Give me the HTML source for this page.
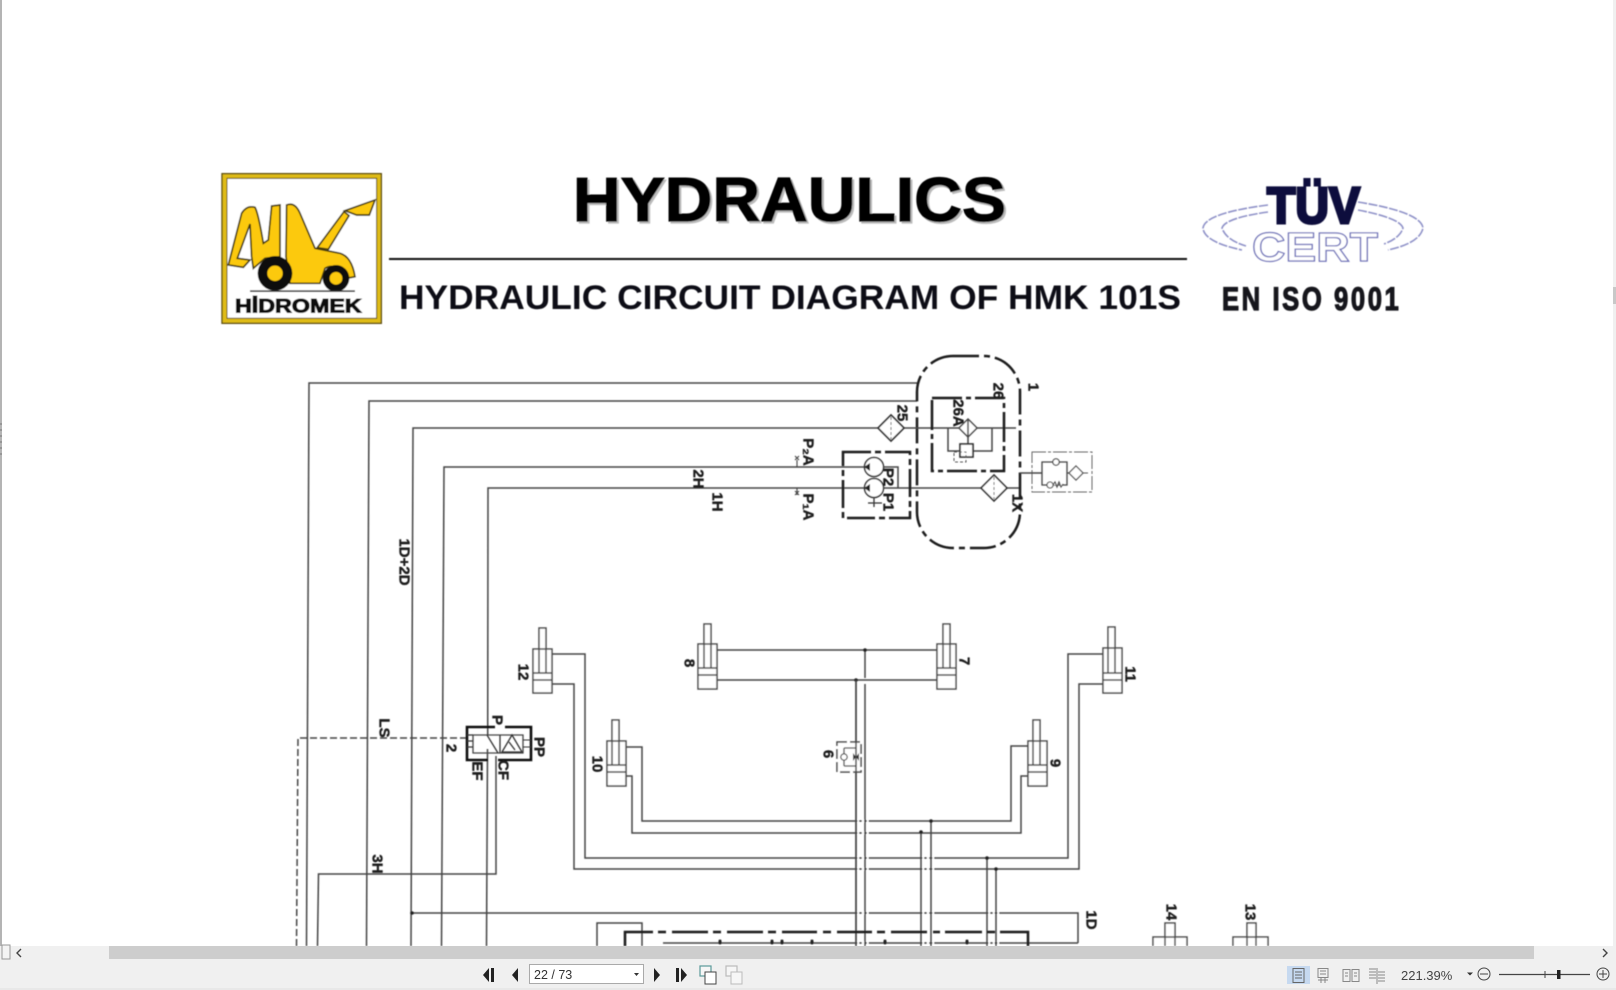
<!DOCTYPE html>
<html><head><meta charset="utf-8"><title>Hydraulics</title>
<style>
html,body{margin:0;padding:0;background:#fff;width:1616px;height:990px;overflow:hidden}
svg{display:block;position:absolute;left:0;top:0}
.l{fill:none;stroke:#444;stroke-width:1.5}
.t{fill:none;stroke:#1c1c1c;stroke-width:2.5}
.c{fill:#fff;stroke:#4a4a4a;stroke-width:1.5}
.n{font:bold 15px "Liberation Sans",sans-serif;fill:#1c1c1c;stroke:#1c1c1c;stroke-width:.4;text-anchor:middle;dominant-baseline:central}
.ui{font:12.5px "Liberation Sans",sans-serif;fill:#333}
</style></head><body>
<svg width="1616" height="990" viewBox="0 0 1616 990" xmlns="http://www.w3.org/2000/svg">
<defs>
<filter id="b" x="-2%" y="-2%" width="104%" height="104%"><feGaussianBlur stdDeviation="0.45"/></filter>
</defs>
<rect width="1616" height="990" fill="#fff"/>
<g filter="url(#b)">
<!-- logo -->
<g transform="translate(200,150) scale(.3333)">
<rect x="66" y="71" width="478" height="449" fill="#e0bc18" stroke="#5c4d10" stroke-width="4"/>
<rect x="81" y="85" width="449" height="420" fill="#fff" stroke="#5c4d10" stroke-width="3"/>
<path d="M85,345 L125,190 Q140,165 165,172 Q175,190 190,280 L205,270 L215,168 L240,165 L240,320 L195,325 L160,355 L155,320 L150,222 L112,325 L150,330 L130,352 Z" fill="#fcc90c" stroke="#443a10" stroke-width="5"/>
<path d="M260,165 Q285,155 300,190 L345,295 L420,310 Q455,320 465,380 L440,385 Q410,335 375,355 L360,400 L270,400 L258,320 Z" fill="#fcc90c" stroke="#443a10" stroke-width="5"/>
<path d="M352,293 L432,185 L447,197 L385,298 Z" fill="#fcc90c" stroke="#443a10" stroke-width="5"/>
<path d="M435,182 L525,150 L508,195 L470,195 Z" fill="#fcc90c" stroke="#443a10" stroke-width="5"/>
<circle cx="225" cy="370" r="52" fill="#111"/><circle cx="225" cy="370" r="23" fill="#fcc90c"/>
<circle cx="408" cy="385" r="40" fill="#111"/><circle cx="408" cy="385" r="19" fill="#fcc90c"/>
<rect x="150" y="421" width="315" height="5" fill="#333"/>
<text x="295" y="488" font-family="Liberation Sans,sans-serif" font-weight="bold" font-size="57" fill="#0a0a0a" stroke="#0a0a0a" stroke-width="3" text-anchor="middle" textLength="380" lengthAdjust="spacingAndGlyphs">HİDROMEK</text>
</g>
<!-- titles -->
<text x="575" y="223" font-family="Liberation Sans,sans-serif" font-weight="bold" font-size="62" fill="#bbb" stroke="#bbb" stroke-width="1.2" textLength="433" lengthAdjust="spacingAndGlyphs">HYDRAULICS</text>
<text x="573" y="221" font-family="Liberation Sans,sans-serif" font-weight="bold" font-size="62" fill="#050505" stroke="#050505" stroke-width="1.2" textLength="433" lengthAdjust="spacingAndGlyphs">HYDRAULICS</text>
<rect x="389" y="258" width="798" height="2" fill="#111"/>
<text x="399" y="309" font-family="Liberation Sans,sans-serif" font-weight="bold" font-size="34" fill="#0c0c14" textLength="782" lengthAdjust="spacingAndGlyphs">HYDRAULIC CIRCUIT DIAGRAM OF HMK 101S</text>
<!-- TUV -->
<path d="M1268,205 Q1205,213 1203,228 Q1204,242 1242,250" fill="none" stroke="#8f92c8" stroke-width="1.6" stroke-dasharray="9 1.5"/>
<path d="M1268,212 Q1225,218 1222,228 Q1226,240 1246,246" fill="none" stroke="#8f92c8" stroke-width="1.6" stroke-dasharray="9 1.5"/>
<path d="M1358,202 Q1421,212 1423,228 Q1420,243 1388,250" fill="none" stroke="#8f92c8" stroke-width="1.6" stroke-dasharray="9 1.5"/>
<path d="M1358,210 Q1400,218 1403,228 Q1400,238 1384,244" fill="none" stroke="#8f92c8" stroke-width="1.6" stroke-dasharray="9 1.5"/>
<text x="1267" y="223" font-family="Liberation Sans,sans-serif" font-weight="bold" font-size="51" fill="#11113c" textLength="93" lengthAdjust="spacingAndGlyphs" stroke="#11113c" stroke-width="3">TÜV</text>
<text x="1252" y="261" font-family="Liberation Sans,sans-serif" font-weight="bold" font-size="41" fill="#fff" stroke="#6f72b8" stroke-width="1.2" textLength="126" lengthAdjust="spacingAndGlyphs">CERT</text>
<text transform="translate(1222,310) scale(.8,1)" x="0" y="0" font-family="Liberation Sans,sans-serif" font-weight="bold" font-size="32" fill="#15151c" stroke="#15151c" stroke-width="1.2" textLength="221" lengthAdjust="spacing">EN ISO 9001</text>

<!-- main pipes (slight scan skew) -->
<path class="l" d="M917,383H309L306.500,946M917,401H369L366.500,946M878,428H413L411,946M865,467H444L441.500,946"/>
<path class="l" d="M1020,488H488L487.700,735M487.500,749L486.500,946"/>
<path class="l" d="M467,738H298L296.500,946" stroke-dasharray="7 3"/>
<path class="l" d="M317.500,946L318.500,874H496V756"/>
<path class="l" d="M412,913H1078V943M597,946V923H642V946M663,943H1078"/>
<!-- tank -->
<rect x="917" y="356" width="103" height="192" rx="36" ry="36" fill="none" stroke="#1c1c1c" stroke-width="2.5" stroke-dasharray="26 5 6 5"/>
<!-- filter 25 + box 26 -->
<path class="l" d="M903,428H1016"/>
<rect x="932" y="398" width="72" height="73" class="t" stroke-dasharray="30 4 5 4"/>
<path d="M891,415L904,428L891,441L878,428Z" fill="#fff" stroke="#333" stroke-width="1.7"/>
<path d="M891,417V439" stroke="#555" stroke-width="1" stroke-dasharray="3 2"/>
<path d="M968,419L977,428L968,437L959,428Z" fill="#fff" stroke="#444" stroke-width="1.5"/>
<path class="l" d="M968,419V437M948,428V451H960M973,451H992V428M968,437V444"/>
<rect x="960" y="444" width="13" height="13" fill="#fff" stroke="#333" stroke-width="1.7"/>
<rect x="954" y="452" width="12" height="10" fill="none" stroke="#555" stroke-width="1" stroke-dasharray="3 2"/>
<!-- pump box -->
<rect x="843" y="452" width="67" height="66" class="t" stroke-dasharray="28 4 6 4"/>
<path class="l" d="M883,467H898V488"/>
<circle cx="874" cy="467" r="9.5" fill="#fff" stroke="#333" stroke-width="1.5"/>
<circle cx="874" cy="488" r="9.5" fill="#fff" stroke="#333" stroke-width="1.5"/>
<path d="M864,467l6,-4v8zM864,488l6,-4v8z" fill="#222"/>
<path d="M874,497.500V507M868,503H882" stroke="#333" stroke-width="1.3" fill="none"/>
<path d="M795,456l4,4m0,-4l-4,4M797,460V467M795,491l4,4m0,-4l-4,4M797,488V495" stroke="#444" stroke-width="1.1" fill="none"/>
<!-- filter lower -->
<path d="M994,475L1007,488L994,501L981,488Z" fill="#fff" stroke="#333" stroke-width="1.6"/>
<path d="M994,477V499" stroke="#555" stroke-width="1" stroke-dasharray="3 2"/>
<!-- external filter -->
<rect x="1032" y="452" width="60" height="40" fill="none" stroke="#666" stroke-width="1" stroke-dasharray="14 2 3 2"/>
<path class="l" d="M1020,473H1042"/>
<path d="M1042,462H1067V485H1042Z M1067,473H1069" fill="none" stroke="#444" stroke-width="1.3"/>
<circle cx="1056" cy="462" r="3.2" fill="#fff" stroke="#444" stroke-width="1.2"/>
<path d="M1047,485a3,3 0 1 0 6,0a3,3 0 1 0 -6,0M1053,485l2,-3 2,5 2,-5 2,5 2,-3" fill="#fff" stroke="#444" stroke-width="1.1"/>
<path d="M1076,466L1083,473L1076,480L1069,473Z" fill="#fff" stroke="#444" stroke-width="1.2"/>
<path d="M1083,473H1088" stroke="#555" stroke-width="1"/>
<!-- valve -->
<path d="M495,727H467V760H488M498,760H531V727H505" fill="none" stroke="#111" stroke-width="2.6"/>
<path d="M473,735H523V753H473Z" fill="none" stroke="#444" stroke-width="1.3"/>
<path d="M487,735L498,753M500,735V753M502,752L512,735L522,752Z M509,742l6,8" fill="none" stroke="#333" stroke-width="1.3"/>
<path d="M467,735h6M467,741h6M467,747h6" fill="none" stroke="#333" stroke-width="1.3"/>
<path d="M523,740h8M523,747h8" fill="none" stroke="#333" stroke-width="1"/>

<!-- cylinders connecting pipes -->
<path class="l" d="M552,654H585V858H1068V654H1103M552,684H574V869H1079V684H1103"/>
<path class="l" d="M626,747H642V821H1011V746H1028M626,776H632V833H1021V776H1028"/>
<path class="l" d="M717,650H937M717,680H937"/>
<!-- crossing gaps -->
<path d="M857.500,821h1.500M862,821h2M867,821h1.500M857.500,833h1.500M862,833h2M867,833h1.500M857.500,858h1.500M862,858h2M867,858h1.500M857.500,869h1.500M862,869h2M867,869h1.500M857.500,913h1.500M862,913h2M867,913h1.500M857.500,943h1.500M862,943h2M867,943h1.500M922.500,858h1.500M927,858h2M932.500,858h1.500M922.500,869h1.500M927,869h2M932.500,869h1.500M922.500,913h1.500M927,913h2M932.500,913h1.500M922.500,943h1.500M927,943h2M932.500,943h1.500M988.500,913h1.500M993,913h1.500M997.500,913h1.500M988.500,943h1.500M993,943h1.500M997.500,943h1.500" stroke="#fff" stroke-width="3"/>
<path class="l" d="M856,680V946M865,650V678M865,684V946M931,821V946M921,832V946M987,858V946M996,869V946"/>
<circle cx="865" cy="650" r="1.8" fill="#222"/><circle cx="856" cy="680" r="1.8" fill="#222"/>
<circle cx="931" cy="821" r="1.8" fill="#222"/><circle cx="921" cy="832" r="1.8" fill="#222"/>
<circle cx="987" cy="858" r="1.8" fill="#222"/><circle cx="996" cy="869" r="1.8" fill="#222"/>
<circle cx="412" cy="913" r="1.8" fill="#222"/>
<!-- cylinder shapes -->
<g class="cy">
<path class="c" d="M539,649V628H546V649M533,649H552V693H533ZM539,649V673M546,649V673M533,673H552M533,680H552"/>
<path class="c" d="M1108,648V627H1115V648M1103,648H1122V693H1103ZM1108,648V673M1115,648V673M1103,673H1122M1103,680H1122"/>
<path class="c" d="M612,741V720H619V741M607,741H626V786H607ZM612,741V765M619,741V765M607,765H626M607,772H626"/>
<path class="c" d="M1033,741V720H1040V741M1028,741H1047V786H1028ZM1033,741V765M1040,741V765M1028,765H1047M1028,772H1047"/>
<path class="c" d="M704,644V624H711V644M698,644H717V689H698ZM704,644V668M711,644V668M698,668H717M698,675H717"/>
<path class="c" d="M943,644V624H950V644M937,644H956V689H937ZM943,644V668M950,644V668M937,668H956M937,675H956"/>
<path class="c" d="M1165,946V923H1175V946M1153,946V937H1187V946"/>
<path class="c" d="M1247,946V923H1256V946M1233,946V937H1268V946"/>
</g>
<!-- item 6 -->
<rect x="837" y="742" width="24" height="30" fill="#fff" stroke="#444" stroke-width="1.5" stroke-dasharray="10 3"/>
<path class="l" d="M856,680V946"/>
<path d="M844,748H856M844,766H856M844,748V766" fill="none" stroke="#444" stroke-width="1.3"/>
<circle cx="844" cy="757" r="3.2" fill="#fff" stroke="#444" stroke-width="1.2"/>
<path d="M853,753l3,4-3,4zM859,753l-3,4 3,4z" fill="#333"/>
<!-- thick dashed bottom box -->
<path d="M625,946V932H653M658,932H666M672,932H708M713,932H721M727,932H763M768,932H776M782,932H817M823,932H831M837,932H872M877,932H885M891,932H927M933,932H940M945,932H982M987,932H995M1000,932H1028V946" fill="none" stroke="#1c1c1c" stroke-width="2.5"/>
<path d="M720,943v-2M772,943v-2M782,943v-2M812,943v-2M885,943v-2M967,943v-2" stroke="#222" stroke-width="3" stroke-linecap="round"/>

<!-- labels (rotated) -->
<g class="labels" transform="translate(-1,0)">
<text class="n" transform="rotate(90 1034 387)" x="1034" y="387">1</text>
<text class="n" transform="rotate(90 999 391)" x="999" y="391">26</text>
<text class="n" transform="rotate(90 903 413)" x="903" y="413">25</text>
<text class="n" transform="rotate(90 959 413)" x="959" y="413">26A</text>
<text class="n" transform="rotate(90 809 452)" x="809" y="452">P₂A</text>
<text class="n" transform="rotate(90 809 507)" x="809" y="507">P₁A</text>
<text class="n" transform="rotate(90 889 477)" x="889" y="477">P2</text>
<text class="n" transform="rotate(90 889 502)" x="889" y="502">P1</text>
<text class="n" transform="rotate(90 1018 503)" x="1018" y="503">1X</text>
<text class="n" transform="rotate(90 699 479)" x="699" y="479">2H</text>
<text class="n" transform="rotate(90 718 502)" x="718" y="502">1H</text>
<text class="n" transform="rotate(90 405 562)" x="405" y="562">1D+2D</text>
<text class="n" transform="rotate(90 524 672)" x="524" y="672">12</text>
<text class="n" transform="rotate(90 690 663)" x="690" y="663">8</text>
<text class="n" transform="rotate(90 965 661)" x="965" y="661">7</text>
<text class="n" transform="rotate(90 1131 674)" x="1131" y="674">11</text>
<text class="n" transform="rotate(90 598 764)" x="598" y="764">10</text>
<text class="n" transform="rotate(90 829 754)" x="829" y="754">6</text>
<text class="n" transform="rotate(90 1056 763)" x="1056" y="763">9</text>
<text class="n" transform="rotate(90 385 728)" x="385" y="728">LS</text>
<text class="n" transform="rotate(90 378 864)" x="378" y="864">3H</text>
<text class="n" transform="rotate(90 452 748)" x="452" y="748">2</text>
<text class="n" transform="rotate(90 498 720)" x="498" y="720">P</text>
<text class="n" transform="rotate(90 540 747)" x="540" y="747">PP</text>
<text class="n" transform="rotate(90 478 771)" x="478" y="771">EF</text>
<text class="n" transform="rotate(90 504 770)" x="504" y="770">CF</text>
<text class="n" transform="rotate(90 1092 920)" x="1092" y="920">1D</text>
<text class="n" transform="rotate(90 1172 912)" x="1172" y="912">14</text>
<text class="n" transform="rotate(90 1251 912)" x="1251" y="912">13</text>
</g>
</g>

<!-- viewer chrome -->
<rect x="0" y="0" width="2" height="946" fill="#b4b4b4"/>
<path d="M0,424h2M0,430h2M0,436h2M0,442h2M0,448h2M0,454h2" stroke="#777" stroke-width="1"/>
<rect x="1613" y="0" width="3" height="946" fill="#f0f0f0"/>
<rect x="1613" y="287" width="3" height="17" fill="#c8c8c8"/>
<rect x="0" y="946" width="1616" height="44" fill="#f0f0f0"/>
<rect x="109" y="946" width="1425" height="13" fill="#cdcdcd"/>
<rect x="2" y="945" width="8" height="14" fill="#f4f4f4" stroke="#999" stroke-width="1"/>
<path d="M21,949l-4,4 4,4" fill="none" stroke="#444" stroke-width="1.4"/>
<path d="M1603,949l4,4-4,4" fill="none" stroke="#444" stroke-width="1.4"/>
<rect x="0" y="988" width="1616" height="2" fill="#e8e8e8"/>
<!-- nav -->
<path d="M489,968l-6,7 6,7zM491,968h3v14h-3z" fill="#222"/>
<path d="M518,968l-6,7 6,7z" fill="#222"/>
<rect x="529.500" y="964.500" width="114" height="19" fill="#fff" stroke="#aaa"/>
<text x="534" y="979" class="ui">22 / 73</text>
<path d="M634,973h5l-2.500,3z" fill="#333"/>
<path d="M654,968l6,7-6,7z" fill="#222"/>
<path d="M676,968h3v14h-3zM681,968l6,7-6,7z" fill="#222"/>
<rect x="700" y="966" width="11" height="10" fill="#f6f6f6" stroke="#5a9a9a" stroke-width="1.2"/>
<rect x="705" y="972" width="11" height="12" fill="#fff" stroke="#444"/>
<rect x="726" y="966" width="11" height="10" fill="#f6f6f6" stroke="#bbb" stroke-width="1.2"/>
<rect x="731" y="972" width="11" height="12" fill="#f6f6f6" stroke="#bbb"/>
<!-- right toolbar -->
<rect x="1287" y="966" width="23" height="18" fill="#c6d9f0"/>
<path d="M1293,968.500h11v14h-11zM1295,972h7M1295,975h7M1295,978h7" fill="none" stroke="#666"/>
<path d="M1318,968.500h10v9h-10zM1318,980h10M1321,977v6M1325,977v6M1320,971h6M1320,974h6" fill="none" stroke="#888"/>
<path d="M1343,969.500h7v12h-7zM1352,969.500h7v12h-7z M1345,973h3M1354,973h3M1345,976h3M1354,976h3" fill="none" stroke="#888"/>
<path d="M1369,969h7M1369,972h7M1369,975h7M1369,978h7M1378,972h7M1378,975h7M1378,978h7M1378,981h7M1377,968v16" fill="none" stroke="#888"/>
<text x="1401" y="980" font-family="Liberation Sans,sans-serif" font-size="13" fill="#444">221.39%</text>
<path d="M1467,972.500h6l-3,3z" fill="#333"/>
<circle cx="1484" cy="974" r="6" fill="none" stroke="#444"/>
<path d="M1480,974h8" stroke="#444"/>
<path d="M1499,974.500h91" stroke="#444" stroke-width="1.2"/>
<path d="M1545,971v7" stroke="#444"/>
<rect x="1557" y="970" width="3.500" height="9" fill="#222"/>
<circle cx="1603" cy="974" r="6" fill="none" stroke="#444"/>
<path d="M1599,974h8M1603,970v8" stroke="#444"/>
</svg>
</body></html>
